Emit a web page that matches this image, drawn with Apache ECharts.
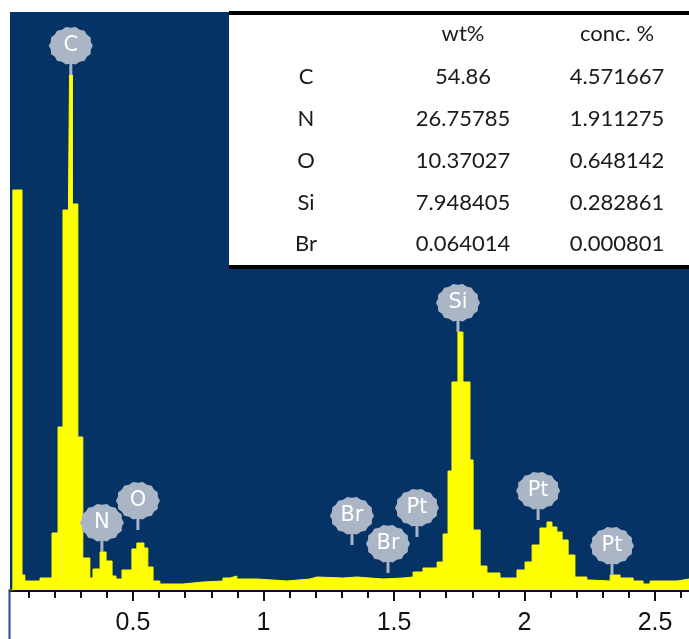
<!DOCTYPE html>
<html>
<head>
<meta charset="utf-8">
<script src="https://cdn.jsdelivr.net/npm/echarts@6/dist/echarts.min.js"></script>
<style>
  html, body { margin: 0; padding: 0; background: #ffffff; }
  #chart { width: 689px; height: 639px; }
</style>
</head>
<body>
<div id="chart"></div>
<script>
// ---- spectrum data (step histogram): segment start energy (keV) and counts ----
var energyEdges = [0.029, 0.040, 0.075, 0.086, 0.144, 0.190, 0.213, 0.232, 0.253, 0.257,
  0.268, 0.289, 0.308, 0.335, 0.347, 0.374, 0.397, 0.420, 0.435, 0.458,
  0.496, 0.515, 0.542, 0.557, 0.577, 0.603, 0.692, 0.768, 0.845, 0.872,
  0.898, 0.975, 1.090, 1.178, 1.205, 1.305, 1.358, 1.408, 1.458, 1.534,
  1.573, 1.611, 1.665, 1.688, 1.707, 1.722, 1.745, 1.764, 1.791, 1.803,
  1.830, 1.856, 1.906, 1.971, 2.002, 2.029, 2.059, 2.086, 2.105, 2.124,
  2.144, 2.167, 2.193, 2.239, 2.251, 2.328, 2.366, 2.416, 2.454, 2.481, 2.584];
var counts = [0, 400, 15, 9, 12, 57, 163, 380, 386, 515,
  386, 153, 32, 12, 21, 38, 29, 14, 11, 20,
  41, 47, 42, 23, 9, 6, 8, 9, 12, 14,
  11, 9, 11, 13, 12, 13, 12, 11, 12, 13,
  18, 22, 28, 56, 119, 208, 258, 208, 130, 60,
  24, 17, 12, 20, 28, 45, 62, 68, 63, 58,
  50, 35, 13, 10, 9, 15, 12, 9, 6, 9, 11];
var energyMin = 0.029;
var energyMax = 2.63;
var countMax = 578;

// ---- axis ticks ----
var minorTicks = [0.1, 0.2, 0.3, 0.4, 0.5, 0.6, 0.7, 0.8, 0.9, 1.0, 1.1, 1.2, 1.3,
  1.4, 1.5, 1.6, 1.7, 1.8, 1.9, 2.0, 2.1, 2.2, 2.3, 2.4, 2.5, 2.6];
var majorTicks = [0.5, 1, 1.5, 2, 2.5];
var tickLabels = ['0.5', '1', '1.5', '2', '2.5'];

// ---- peak labels ----
var peakNames = ['C', 'N', 'O', 'Br', 'Br', 'Pt', 'Si', 'Pt', 'Pt'];
var peakEnergy = [0.262, 0.381, 0.519, 1.339, 1.477, 1.588, 1.745, 2.052, 2.335];
var peakHeight = [515, 38, 60, 45, 17, 53, 258, 70, 15];

// ---- composition table ----
var tableHeader = ['', 'wt%', 'conc. %'];
var elements = ['C', 'N', 'O', 'Si', 'Br'];
var wtPercent = ['54.86', '26.75785', '10.37027', '7.948405', '0.064014'];
var concPercent = ['4.571667', '1.911275', '0.648142', '0.282861', '0.000801'];

var chart = echarts.init(document.getElementById('chart'), null, { renderer: 'canvas' });

var seriesData = energyEdges.map(function (e, i) { return [e, counts[i]]; });
seriesData.push([energyMax, counts[counts.length - 1]]);

// balloon shape: slightly crinkled ellipse (44 x 38) with a short stem below
function balloonPath() {
  var cx = 22, cy = 19, rx = 22, ry = 19, n = 28, d = 'M';
  for (var k = 0; k < n; k++) {
    var a = (k / n) * Math.PI * 2;
    var f = (k % 2 === 0) ? 1 : 0.93;
    var px = cx + Math.cos(a) * rx * f, py = cy + Math.sin(a) * ry * f;
    d += (k ? ' L' : '') + px.toFixed(2) + ',' + py.toFixed(2);
  }
  d += ' Z M20.5,36 L23.5,36 L23.5,48 L20.5,48 Z';
  return 'path://' + d;
}

var markData = peakNames.map(function (n, i) {
  return { name: n, coord: [peakEnergy[i], peakHeight[i]] };
});

// table graphics
var tableFont = 'Lato, "Open Sans", sans-serif';
var colX = [306, 463, 617];
var headerY = 34;
var rowY = [77, 119, 161, 203, 244];
var g = [];
g.push({ type: 'rect', shape: { x: 229, y: 12, width: 460, height: 256 }, style: { fill: '#ffffff' }, z: 10 });
g.push({ type: 'rect', shape: { x: 229, y: 11, width: 460, height: 4 }, style: { fill: '#000000' }, z: 11 });
g.push({ type: 'rect', shape: { x: 229, y: 265, width: 460, height: 4 }, style: { fill: '#000000' }, z: 11 });
tableHeader.forEach(function (h, j) {
  if (!h) return;
  g.push({ type: 'text', x: colX[j], y: headerY, z: 12,
    style: { text: h, fill: '#1a1a1a', font: '22px ' + tableFont, textAlign: 'center', textVerticalAlign: 'middle' } });
});
elements.forEach(function (el, i) {
  var cells = [el, wtPercent[i], concPercent[i]];
  cells.forEach(function (c, j) {
    g.push({ type: 'text', x: colX[j], y: rowY[i], z: 12,
      style: { text: c, fill: '#1a1a1a', font: '22px ' + tableFont, textAlign: 'center', textVerticalAlign: 'middle' } });
  });
});
g.push({ type: 'line', shape: { x1: 9.5, y1: 590, x2: 9.5, y2: 639 }, style: { stroke: '#2a4b8c', lineWidth: 2 }, z: 5 });

var option = {
  animation: false,
  backgroundColor: '#ffffff',
  grid: {
    left: 10, right: 0, top: 12, bottom: 49,
    show: true, backgroundColor: '#063366', borderWidth: 0,
    outerBoundsMode: 'none'
  },
  xAxis: [
    {
      type: 'value', min: energyMin, max: energyMax, position: 'bottom',
      axisLine: { show: true, onZero: false, lineStyle: { color: '#111111', width: 3 } },
      axisTick: { show: true, customValues: minorTicks, length: 8, lineStyle: { color: '#111111', width: 2 } },
      axisLabel: { show: false },
      splitLine: { show: false }
    },
    {
      type: 'value', min: energyMin, max: energyMax, position: 'bottom',
      axisLine: { show: false },
      axisTick: { show: true, customValues: majorTicks, length: 11, lineStyle: { color: '#111111', width: 2 } },
      axisLabel: {
        show: true, customValues: majorTicks, margin: 21,
        formatter: function (v) { return tickLabels[majorTicks.indexOf(v)] || ''; },
        fontFamily: '"Liberation Sans", Arial, sans-serif', fontSize: 25, color: '#111111'
      },
      splitLine: { show: false }
    }
  ],
  yAxis: { type: 'value', min: 0, max: countMax, show: false, splitLine: { show: false } },
  series: [{
    type: 'line',
    xAxisIndex: 0,
    step: 'end',
    symbol: 'none',
    data: seriesData,
    lineStyle: { color: '#ffff00', width: 1 },
    areaStyle: { color: '#ffff00', opacity: 1 },
    markPoint: {
      symbol: balloonPath(),
      symbolSize: [44, 48],
      symbolOffset: [0, '-50%'],
      symbolKeepAspect: false,
      itemStyle: { color: '#aab5c6' },
      label: {
        show: true, formatter: '{b}', color: '#ffffff', fontSize: 21,
        fontFamily: '"DejaVu Sans", sans-serif', offset: [0, -5]
      },
      data: markData,
      silent: true
    }
  }],
  graphic: g
};
chart.setOption(option);
</script>
</body>
</html>
